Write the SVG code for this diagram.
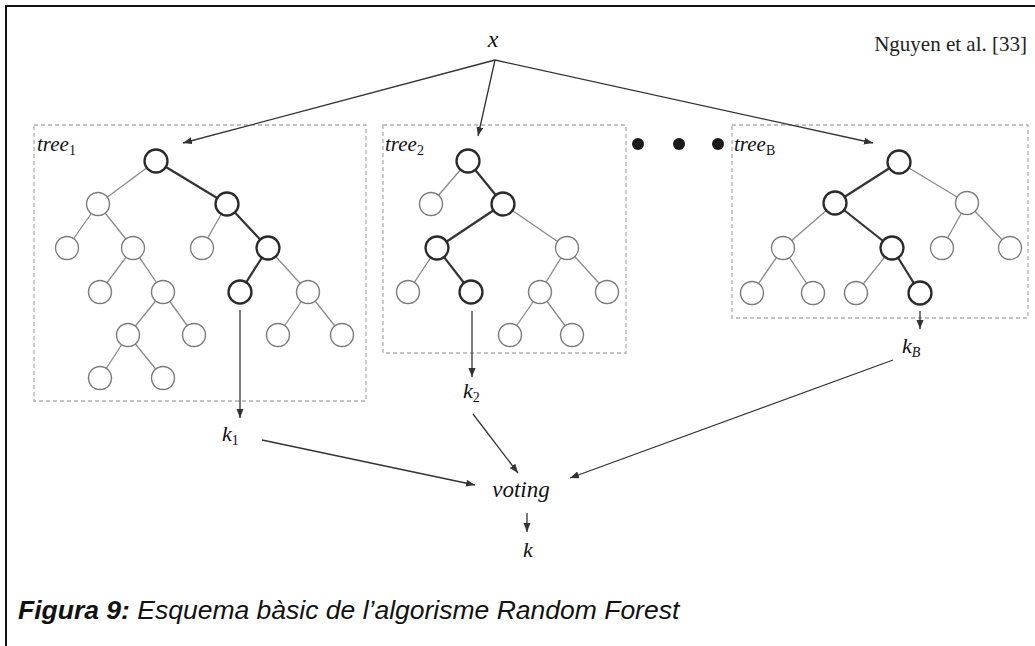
<svg xmlns="http://www.w3.org/2000/svg" width="1035" height="646" viewBox="0 0 1035 646">
  <defs>
    <marker id="arrow" markerUnits="userSpaceOnUse" markerWidth="10" markerHeight="8" refX="9" refY="3.5" orient="auto">
      <path d="M0,0 L9,3.5 L0,7 z" fill="#333"/>
    </marker>
    <style>
      .frame { stroke: #111; stroke-width: 2; fill: none; }
      .box { fill: none; stroke: #b0b0b0; stroke-width: 1.3; stroke-dasharray: 4 3; }
      .edge { stroke: #8a8a8a; stroke-width: 1.3; fill: none; }
      .path { stroke: #333; stroke-width: 2.2; fill: none; }
      .node { fill: #fff; stroke: #7a7a7a; stroke-width: 1.4; }
      .hot { fill: #fff; stroke: #2a2a2a; stroke-width: 2.3; }
      .conn { stroke: #333; stroke-width: 1.3; fill: none; marker-end: url(#arrow); }
      .lbl { font-family: "Liberation Serif", "Times New Roman", serif; font-style: italic; fill: #111; }
      .sub { font-style: normal; }
      .dot { fill: #1a1a1a; }
    </style>
  </defs>
  <rect width="1035" height="646" fill="#fff"/>

  <!-- page frame -->
  <path class="frame" d="M6,646 V6 H1035"/>

  <text x="1027" y="51" text-anchor="end" font-family="Liberation Serif, Times New Roman, serif" font-size="21" fill="#222">Nguyen et al. [33]</text>

  <!-- input -->
  <g id="input">
    <text class="lbl" x="493" y="47" font-size="24" text-anchor="middle">x</text>
  </g>

  <!-- tree 1 -->
  <g id="tree1">
    <rect class="box" x="34" y="125" width="332" height="276"/>
    <text class="lbl" x="37" y="151" font-size="21">tree<tspan class="sub" font-size="14" dy="4">1</tspan></text>
    <g>
      <line class="edge" x1="156" y1="161" x2="98" y2="204"/>
      <line class="path" x1="156" y1="161" x2="227" y2="204"/>
      <line class="edge" x1="98" y1="204" x2="67" y2="248"/>
      <line class="edge" x1="98" y1="204" x2="133" y2="248"/>
      <line class="edge" x1="133" y1="248" x2="100" y2="292"/>
      <line class="edge" x1="133" y1="248" x2="163" y2="292"/>
      <line class="edge" x1="163" y1="292" x2="128" y2="335"/>
      <line class="edge" x1="163" y1="292" x2="194" y2="335"/>
      <line class="edge" x1="128" y1="335" x2="100" y2="378"/>
      <line class="edge" x1="128" y1="335" x2="163" y2="378"/>
      <line class="edge" x1="227" y1="204" x2="202" y2="248"/>
      <line class="path" x1="227" y1="204" x2="268" y2="248"/>
      <line class="path" x1="268" y1="248" x2="240" y2="292"/>
      <line class="edge" x1="268" y1="248" x2="308" y2="292"/>
      <line class="edge" x1="308" y1="292" x2="278" y2="335"/>
      <line class="edge" x1="308" y1="292" x2="342" y2="335"/>
    </g>
    <g>
      <circle class="hot" cx="156" cy="161" r="11.5"/>
      <circle class="node" cx="98" cy="204" r="11.5"/>
      <circle class="hot" cx="227" cy="204" r="11.5"/>
      <circle class="node" cx="67" cy="248" r="11.5"/>
      <circle class="node" cx="133" cy="248" r="11.5"/>
      <circle class="node" cx="202" cy="248" r="11.5"/>
      <circle class="hot" cx="268" cy="248" r="11.5"/>
      <circle class="node" cx="100" cy="292" r="11.5"/>
      <circle class="node" cx="163" cy="292" r="11.5"/>
      <circle class="hot" cx="240" cy="292" r="11.5"/>
      <circle class="node" cx="308" cy="292" r="11.5"/>
      <circle class="node" cx="128" cy="335" r="11.5"/>
      <circle class="node" cx="194" cy="335" r="11.5"/>
      <circle class="node" cx="278" cy="335" r="11.5"/>
      <circle class="node" cx="342" cy="335" r="11.5"/>
      <circle class="node" cx="100" cy="378" r="11.5"/>
      <circle class="node" cx="163" cy="378" r="11.5"/>
    </g>
  </g>

  <!-- tree 2 -->
  <g id="tree2">
    <rect class="box" x="383" y="125" width="243" height="228"/>
    <text class="lbl" x="385" y="151" font-size="21">tree<tspan class="sub" font-size="14" dy="4">2</tspan></text>
    <g>
      <line class="edge" x1="468" y1="161" x2="431" y2="204"/>
      <line class="path" x1="468" y1="161" x2="503" y2="204"/>
      <line class="path" x1="503" y1="204" x2="437" y2="248"/>
      <line class="edge" x1="503" y1="204" x2="567" y2="248"/>
      <line class="edge" x1="437" y1="248" x2="408" y2="292"/>
      <line class="path" x1="437" y1="248" x2="471" y2="292"/>
      <line class="edge" x1="567" y1="248" x2="540" y2="292"/>
      <line class="edge" x1="567" y1="248" x2="607" y2="292"/>
      <line class="edge" x1="540" y1="292" x2="510" y2="335"/>
      <line class="edge" x1="540" y1="292" x2="572" y2="335"/>
    </g>
    <g>
      <circle class="hot" cx="468" cy="161" r="11.5"/>
      <circle class="node" cx="431" cy="204" r="11.5"/>
      <circle class="hot" cx="503" cy="204" r="11.5"/>
      <circle class="hot" cx="437" cy="248" r="11.5"/>
      <circle class="node" cx="567" cy="248" r="11.5"/>
      <circle class="node" cx="408" cy="292" r="11.5"/>
      <circle class="hot" cx="471" cy="292" r="11.5"/>
      <circle class="node" cx="540" cy="292" r="11.5"/>
      <circle class="node" cx="607" cy="292" r="11.5"/>
      <circle class="node" cx="510" cy="335" r="11.5"/>
      <circle class="node" cx="572" cy="335" r="11.5"/>
    </g>
  </g>

  <!-- ellipsis between trees -->
  <g id="ellipsis">
    <circle class="dot" cx="638" cy="144" r="6"/>
    <circle class="dot" cx="679" cy="144" r="6"/>
    <circle class="dot" cx="718" cy="144" r="6"/>
  </g>

  <!-- tree B -->
  <g id="treeB">
    <rect class="box" x="732" y="125" width="296" height="193"/>
    <text class="lbl" x="734" y="151" font-size="21">tree<tspan class="sub" font-size="14" dy="4">B</tspan></text>
    <g>
      <line class="path" x1="899" y1="162" x2="835" y2="203"/>
      <line class="edge" x1="899" y1="162" x2="967" y2="203"/>
      <line class="edge" x1="835" y1="203" x2="783" y2="248"/>
      <line class="path" x1="835" y1="203" x2="892" y2="248"/>
      <line class="edge" x1="783" y1="248" x2="752" y2="293"/>
      <line class="edge" x1="783" y1="248" x2="813" y2="293"/>
      <line class="edge" x1="892" y1="248" x2="856" y2="293"/>
      <line class="path" x1="892" y1="248" x2="920" y2="293"/>
      <line class="edge" x1="967" y1="203" x2="942" y2="248"/>
      <line class="edge" x1="967" y1="203" x2="1010" y2="248"/>
    </g>
    <g>
      <circle class="hot" cx="899" cy="162" r="11.5"/>
      <circle class="hot" cx="835" cy="203" r="11.5"/>
      <circle class="node" cx="967" cy="203" r="11.5"/>
      <circle class="node" cx="783" cy="248" r="11.5"/>
      <circle class="hot" cx="892" cy="248" r="11.5"/>
      <circle class="node" cx="942" cy="248" r="11.5"/>
      <circle class="node" cx="1010" cy="248" r="11.5"/>
      <circle class="node" cx="752" cy="293" r="11.5"/>
      <circle class="node" cx="813" cy="293" r="11.5"/>
      <circle class="node" cx="856" cy="293" r="11.5"/>
      <circle class="hot" cx="920" cy="293" r="11.5"/>
    </g>
  </g>

  <!-- per-tree results -->
  <g id="k1">
    <text class="lbl" x="222" y="441" font-size="22">k<tspan class="sub" font-size="14" dy="4">1</tspan></text>
  </g>
  <g id="k2">
    <text class="lbl" x="463" y="398" font-size="22">k<tspan class="sub" font-size="14" dy="4">2</tspan></text>
  </g>
  <g id="kB">
    <text class="lbl" x="902" y="353" font-size="22">k<tspan font-size="14" dy="4">B</tspan></text>
  </g>

  <!-- aggregation -->
  <g id="voting">
    <text class="lbl" x="521" y="497" font-size="23" text-anchor="middle">voting</text>
  </g>
  <g id="k">
    <text class="lbl" x="523" y="557" font-size="22">k</text>
  </g>

  <!-- connectors -->
  <g id="connectors">
    <line class="conn" x1="495" y1="60" x2="183" y2="143"/>
    <line class="conn" x1="495" y1="60" x2="478" y2="136"/>
    <line class="conn" x1="495" y1="60" x2="873" y2="143"/>
    <line class="conn" x1="240" y1="310" x2="240" y2="418"/>
    <line class="conn" x1="472" y1="311" x2="472" y2="377"/>
    <line class="conn" x1="920" y1="311" x2="920" y2="329"/>
    <line class="conn" x1="262" y1="440" x2="475" y2="485"/>
    <line class="conn" x1="473" y1="414" x2="518" y2="473"/>
    <line class="conn" x1="893" y1="360" x2="570" y2="478"/>
    <line class="conn" x1="527" y1="513" x2="527" y2="532"/>
  </g>

  <!-- caption -->
  <text x="18" y="619" font-family="Liberation Sans, Arial, sans-serif" font-size="26.5" font-style="italic" fill="#111"><tspan font-weight="bold">Figura 9:</tspan> Esquema bàsic de l’algorisme Random Forest</text>
</svg>
